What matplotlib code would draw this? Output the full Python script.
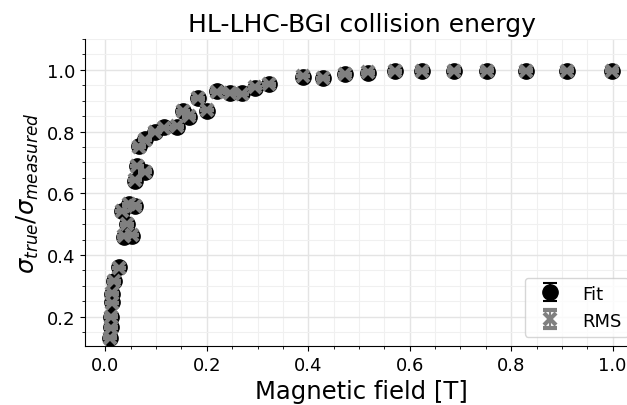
import matplotlib
matplotlib.use("Agg")
import matplotlib.pyplot as plt
from matplotlib.ticker import MultipleLocator

field = [0.010, 0.011, 0.012, 0.013, 0.014, 0.018, 0.027, 0.033, 0.036, 0.043,
         0.046, 0.053, 0.059, 0.059, 0.062, 0.066, 0.079, 0.079, 0.098, 0.115,
         0.142, 0.154, 0.164, 0.183, 0.201, 0.221, 0.246, 0.269, 0.295, 0.323,
         0.390, 0.430, 0.472, 0.518, 0.571, 0.625, 0.687, 0.753, 0.829, 0.911,
         0.999]
fit_ratio = [0.130, 0.166, 0.198, 0.247, 0.274, 0.317, 0.360, 0.544, 0.458, 0.501,
             0.566, 0.463, 0.560, 0.641, 0.690, 0.753, 0.668, 0.776, 0.798, 0.814,
             0.815, 0.868, 0.847, 0.910, 0.868, 0.931, 0.924, 0.924, 0.941, 0.955,
             0.978, 0.974, 0.987, 0.990, 0.996, 0.997, 0.997, 0.997, 0.997, 0.997,
             0.997]
fit_err = [0.001] * len(field)
rms_ratio = [0.132, 0.164, 0.200, 0.245, 0.276, 0.315, 0.358, 0.542, 0.460, 0.499,
             0.564, 0.465, 0.558, 0.643, 0.688, 0.751, 0.670, 0.774, 0.800, 0.812,
             0.817, 0.866, 0.849, 0.908, 0.870, 0.929, 0.926, 0.922, 0.943, 0.953,
             0.980, 0.972, 0.985, 0.992, 0.995, 0.997, 0.997, 0.997, 0.997, 0.997,
             0.997]
rms_err = [0.001] * len(field)

fig = plt.figure(figsize=(6.27, 4.06), dpi=100)
ax = fig.add_axes([0.1356, 0.1453, 0.8819, 0.7562])

ax.errorbar(field, fit_ratio, yerr=fit_err, fmt='o', color='black',
            markersize=11, capsize=5, elinewidth=1.5, capthick=1.5, label='Fit', zorder=3)
ax.errorbar(field, rms_ratio, yerr=rms_err, fmt='x', color='grey',
            markersize=9, mew=3, capsize=5, elinewidth=1.5, capthick=1.5, label='RMS', zorder=4)

ax.set_xlim(-0.04, 1.05)
ax.set_ylim(0.105, 1.10)
ax.xaxis.set_major_locator(MultipleLocator(0.2))
ax.xaxis.set_minor_locator(MultipleLocator(0.05))
ax.yaxis.set_major_locator(MultipleLocator(0.2))
ax.yaxis.set_minor_locator(MultipleLocator(0.05))
ax.grid(which='major', color='#e4e4e4', linewidth=1.0, zorder=0)
ax.grid(which='minor', color='#f0f0f0', linewidth=0.8, zorder=0)
ax.set_axisbelow(True)
ax.tick_params(labelsize=13)
for s in ('top', 'right'):
    ax.spines[s].set_visible(False)

ax.set_xlabel('Magnetic field [T]', fontsize=17.5)
ax.set_ylabel(r'$\sigma_{true}/\sigma_{measured}$', fontsize=17.5)
ax.set_title('HL-LHC-BGI collision energy', fontsize=18)
ax.legend(loc='lower right', fontsize=13)

fig.savefig('out.png', dpi=100)
